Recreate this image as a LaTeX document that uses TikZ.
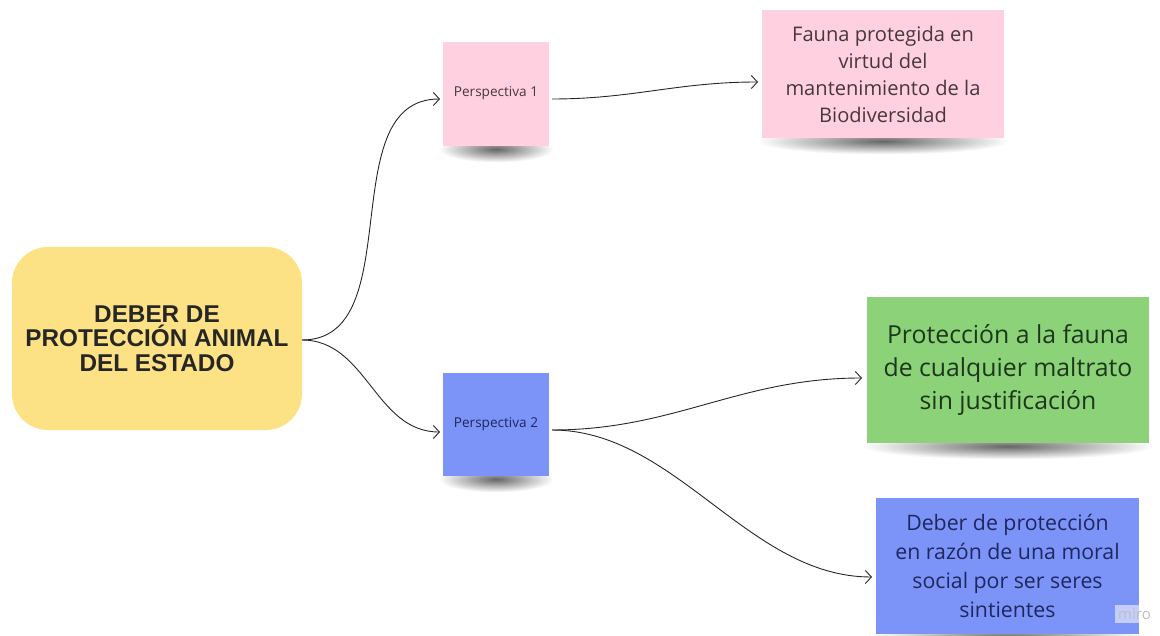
\documentclass[tikz,border=0pt]{standalone}
\usepackage{fontspec}
\setmainfont{Open Sans}
\newfontfamily\arialbold{Liberation Sans}
\usetikzlibrary{arrows.meta,fadings}
\pgfdeclarelayer{bg}
\pgfsetlayers{bg,main}
\definecolor{yel}{RGB}{253,226,133}
\definecolor{pinkn}{RGB}{255,208,224}
\definecolor{bluen}{RGB}{124,147,248}
\definecolor{greenn}{RGB}{140,210,120}
\definecolor{pinktxt}{RGB}{70,55,62}
\definecolor{bluetxt}{RGB}{30,40,95}
\definecolor{greentxt}{RGB}{28,55,28}
\tikzfading[name=softfade, inner color=transparent!0, outer color=transparent!100]
\tikzset{
  note/.style={draw=none, inner sep=0pt, align=center},
  conn/.style={draw=black!85, line width=0.9pt, -{Straight Barb[length=6pt,width=13pt,line width=0.9pt]}},
  softshadow/.style={fill=black, fill opacity=0.6, path fading=softfade},
}
\begin{document}
\begin{tikzpicture}[x=1pt,y=-1pt]
\useasboundingbox (0,0) rectangle (1160,636);

\node[note, fill=yel, rounded corners=36pt, minimum width=290pt, minimum height=183pt,
  font=\arialbold\bfseries\fontsize{24.3}{24.5}\selectfont, text=black!85]
  (main) at (157,338.5) {DEBER DE\\PROTECCIÓN ANIMAL\\DEL ESTADO};

\node[note, fill=pinkn, minimum width=106pt, minimum height=104pt,
  font=\fontsize{13.6}{15}\selectfont, text=pinktxt]
  (p1) at (496,94) {\raisebox{4pt}{Perspectiva 1}};

\node[note, fill=bluen, minimum width=106pt, minimum height=103pt,
  font=\fontsize{13.6}{15}\selectfont, text=bluetxt]
  (p2) at (496,424.5) {\raisebox{4pt}{Perspectiva 2}};

\node[note, fill=pinkn, minimum width=242pt, minimum height=128pt,
  font=\fontsize{20.1}{27}\selectfont, text=pinktxt]
  (fauna) at (883,74) {Fauna protegida en\\virtud del\\mantenimiento de la\\Biodiversidad};

\node[note, fill=greenn, minimum width=282pt, minimum height=146pt,
  font=\fontsize{24.8}{33}\selectfont, text=greentxt]
  (green) at (1008,370) {Protección a la fauna\\de cualquier maltrato\\sin justificación};

\node[note, fill=bluen, minimum width=263pt, minimum height=136pt,
  font=\fontsize{21.3}{29}\selectfont, text=bluetxt]
  (deber) at (1007.5,566) {Deber de protección\\en razón de una moral\\social por ser seres\\sintientes};

\begin{pgfonlayer}{bg}
\foreach \n in {p1,p2,fauna,green,deber}{
  \fill[softshadow] ([xshift=-4pt,yshift=10pt]\n.south west) rectangle ([xshift=4pt,yshift=-16pt]\n.south east);
}
\end{pgfonlayer}

\coordinate (m1) at (302,340);
\coordinate (p1in) at (440,99);
\coordinate (p2in) at (440,432);
\coordinate (p1out) at (552,99);
\coordinate (p2out) at (552,430);
\coordinate (faunain) at (758,82);
\coordinate (greenin) at (862,378);
\coordinate (deberin) at (872,577);

\draw[conn] (m1) to[out=0,in=180] (p1in);
\draw[conn] (m1) to[out=0,in=180] (p2in);
\draw[conn] (p1out) to[out=0,in=180] (faunain);
\draw[conn] (p2out) to[out=0,in=180] (greenin);
\draw[conn] (p2out) to[out=0,in=180,looseness=0.9] (deberin);

\node[fill=white, opacity=0.55, text opacity=1, text=black!25, inner sep=3pt,
  font=\fontsize{15}{15}\selectfont, anchor=west] (wm) at (1115,614) {miro};
\end{tikzpicture}
\end{document}
